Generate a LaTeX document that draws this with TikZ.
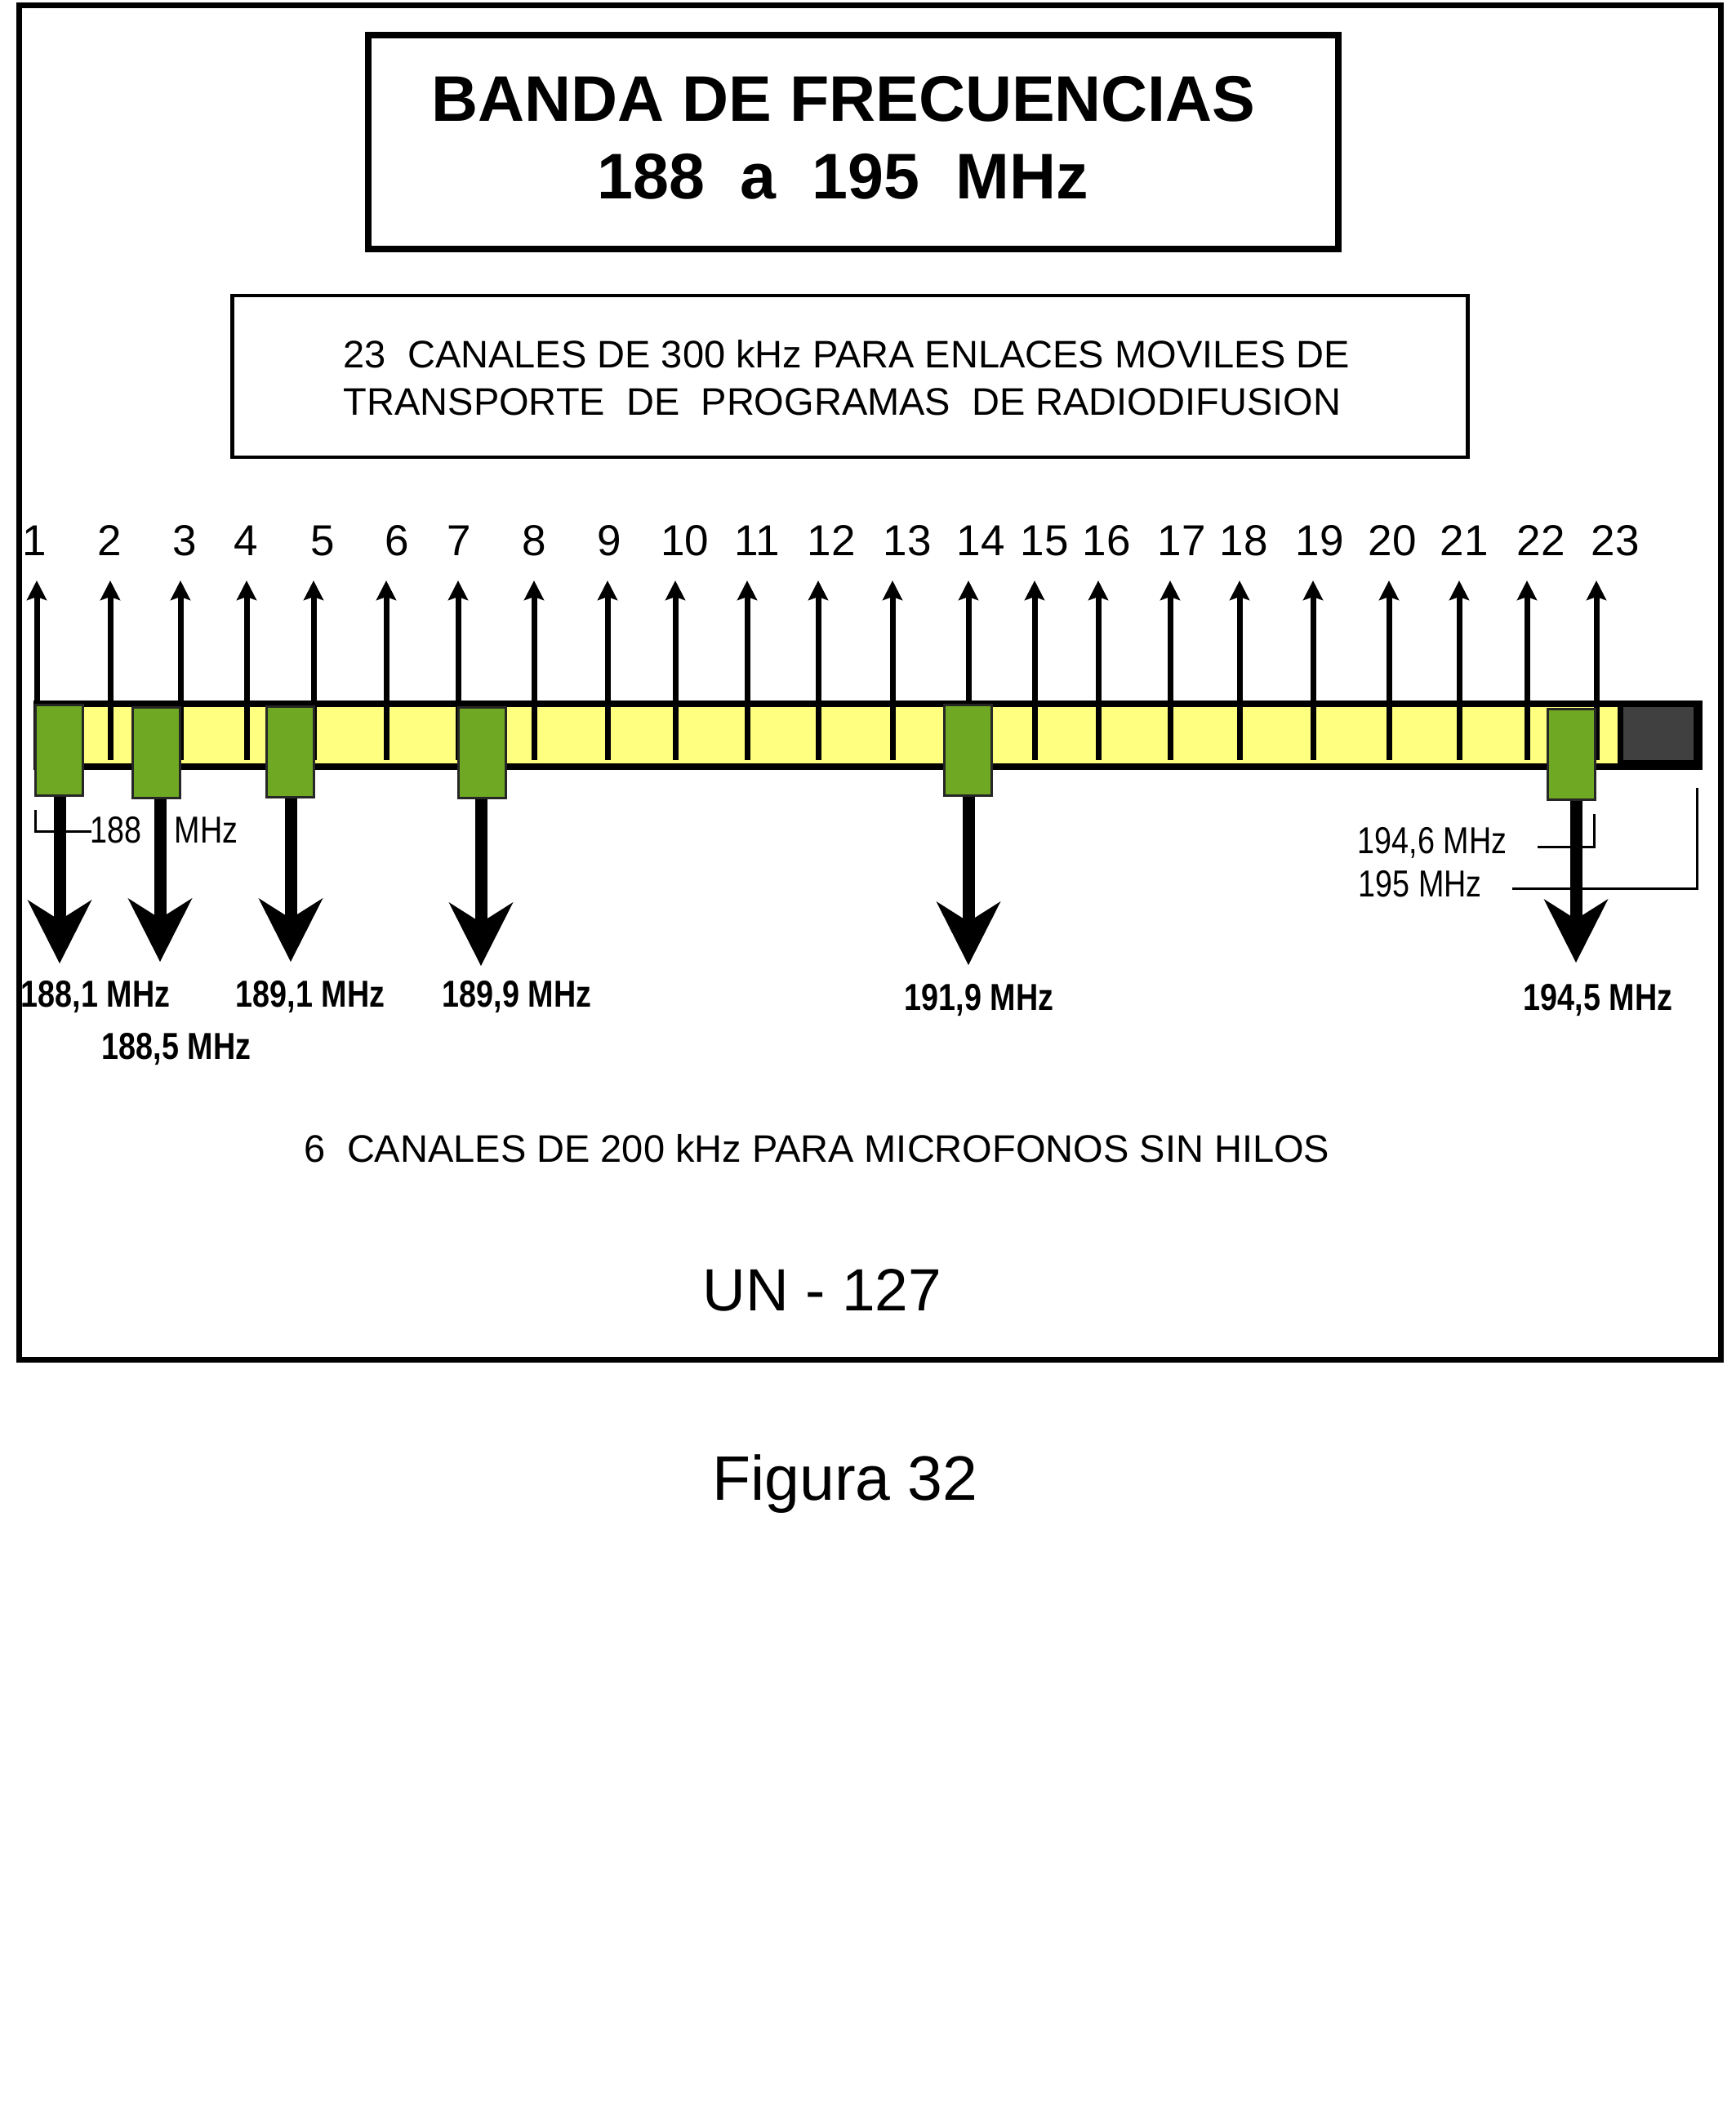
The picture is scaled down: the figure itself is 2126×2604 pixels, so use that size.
\documentclass[tikz,border=0pt]{standalone}
\usepackage{fontspec}
\setmainfont{Liberation Sans}
\newfontfamily\narrowfont[FakeStretch=0.82]{Liberation Sans}
\usetikzlibrary{arrows.meta}
\definecolor{bandyellow}{RGB}{255,255,128}
\definecolor{chgreen}{RGB}{111,168,35}
\definecolor{guardgray}{RGB}{64,64,64}
\tikzset{
  txt/.style={inner sep=0pt},
  chbox/.style={draw=black!85, line width=0.75pt, fill=chgreen, minimum width=14.5pt, minimum height=27.75pt, inner sep=0pt},
  uparr/.style={line width=1.75pt, -{Stealth[length=6pt, width=6pt, inset=1pt]}},
  downarr/.style={line width=3.75pt, -{Stealth[length=19.5pt, width=19.75pt, inset=6.25pt, line width=0pt]}},
  chnum/.style={txt, anchor=base, font=\fontsize{13.25}{15}\selectfont},
  freqlbl/.style={txt, anchor=base, font=\narrowfont\bfseries\fontsize{11.5}{13}\selectfont},
  marklbl/.style={txt, anchor=base west, font=\narrowfont\fontsize{11.5}{13}\selectfont},
  dimline/.style={line width=0.75pt}
}

\begin{document}
\begin{tikzpicture}[x=0.25pt, y=-0.25pt]
    \useasboundingbox (0,0) rectangle (2126,2604);
    \draw[line width=1.75pt] (23,6) rectangle (2107,1665);

    % titulo
    \node[draw, line width=2pt, minimum width=297pt, minimum height=65.4pt] (title) at (1045,174) {};
    \node[txt, anchor=base, font=\bfseries\fontsize{19.75}{24}\selectfont] (banda) at (1033,148) {BANDA DE FRECUENCIAS};
    \node[txt, anchor=base, font=\bfseries\fontsize{19.75}{24}\selectfont] (rango) at (1032,243) {188\ \ a\ \ 195\ \ MHz};

    \node[draw, line width=1.2pt, minimum width=378.1pt, minimum height=49.5pt] (enlaces) at (1041,461) {};
    \node[txt, anchor=base west, font=\fontsize{11.75}{14}\selectfont] (enl1) at (420,450) {23\ \ CANALES DE 300 kHz PARA ENLACES MOVILES DE};
    \node[txt, anchor=base west, font=\fontsize{11.75}{14}\selectfont] (enl2) at (420,508) {TRANSPORTE\ \ DE\ \ PROGRAMAS\ \ DE RADIODIFUSION};

    % banda
    \draw[fill=bandyellow, line width=2pt] (45,862) rectangle (2081,939);
    \fill (1981,858) rectangle (2085,943);
    \fill[guardgray] (1988,866) rectangle (2074,931);

    % 23 canales de 300 kHz
    \foreach \ax/\lx [count=\i] in {45/42, 135/134, 221/226, 302/301, 384/395, 473/486, 561/562, 654/654,
        744/746, 827/839, 915/927, 1002/1018, 1093/1111, 1186/1201, 1267/1279, 1345/1355,
        1433/1447, 1518/1523, 1608/1616, 1701/1705, 1787/1793, 1870/1887, 1955/1978}{
        \coordinate (a\i) at (\ax,931);
        \coordinate (t\i) at (\ax,711);
        \draw[uparr] (a\i) -- (t\i);
        \node[chnum] (n\i) at (\lx,680) {\i};
    }

    % 6 canales de microfonos
    \foreach \bx/\by/\dx/\ty [count=\j] in {72/919/73/1180, 191/922/196/1178, 355/921/356/1178,
        590/922/589/1183, 1185/919/1186/1182, 1924/924/1930/1179}{
        \node[chbox] (g\j) at (\bx,\by) {};
        \coordinate (d\j) at (\dx,\ty);
        \draw[downarr] (g\j.south -| d\j) -- (d\j);
    }

    \node[freqlbl] (f1) at (117,1233) {188,1 MHz};
    \node[freqlbl] (f2) at (216,1297) {188,5 MHz};
    \node[freqlbl] (f3) at (380,1233) {189,1 MHz};
    \node[freqlbl] (f4) at (633,1233) {189,9 MHz};
    \node[freqlbl] (f5) at (1199,1237) {191,9 MHz};
    \node[freqlbl] (f6) at (1957,1237) {194,5 MHz};

    % limites
    \coordinate (lo1) at (43,992);
    \coordinate (lo2) at (112,1018);
    \draw[dimline] (lo1) |- (lo2);
    \node[marklbl] (m188) at (110,1032) {188\hspace{10pt}MHz};
    \coordinate (hi1) at (1883,1037);
    \coordinate (hi2) at (1952,997);
    \draw[dimline] (hi1) -| (hi2);
    \node[marklbl] (m1946) at (1662,1045) {194,6 MHz};
    \coordinate (hi3) at (1852,1088);
    \coordinate (hi4) at (2078,965);
    \draw[dimline] (hi3) -| (hi4);
    \node[marklbl] (m195) at (1663,1098) {195 MHz};

    \node[txt, anchor=base west, font=\fontsize{11.75}{14}\selectfont] (micro) at (372,1423) {6\ \ CANALES DE 200 kHz PARA MICROFONOS SIN HILOS};
    \node[txt, anchor=base, font=\fontsize{18.25}{22}\selectfont] (un) at (1007,1605) {UN - 127};
    \node[txt, anchor=base, font=\fontsize{19.25}{23}\selectfont] (fig) at (1035,1837) {Figura 32};
\end{tikzpicture}
\end{document}
